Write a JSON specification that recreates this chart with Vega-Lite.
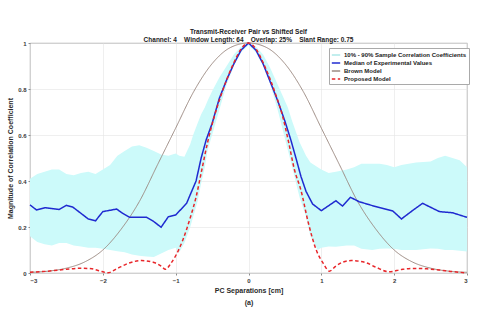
{
  "$schema": "https://vega.github.io/schema/vega-lite/v6.json",
  "autosize": "none",
  "width": 437,
  "height": 230,
  "padding": {"left": 30, "top": 43, "right": 13, "bottom": 47},
  "background": "white",
  "config": {
    "font": "Liberation Sans",
    "view": {"stroke": "#8c8c8c", "strokeWidth": 0.8},
    "axis": {"labelFontSize": 6, "labelFontWeight": "bold", "labelColor": "#3a3a3a", "titleFontSize": 7, "titleFontWeight": "bold", "titleColor": "#2a2a2a", "gridColor": "#e4e4e4", "gridWidth": 0.6, "domain": false, "tickColor": "#8c8c8c", "tickSize": 2}
  },
  "title": {
    "text": ["Transmit-Receiver Pair vs Shifted Self", "Channel: 4\u00a0\u00a0\u00a0\u00a0Window Length: 64\u00a0\u00a0\u00a0\u00a0Overlap: 25%\u00a0\u00a0\u00a0\u00a0Slant Range: 0.75"],
    "fontSize": 6.5, "fontWeight": "bold", "color": "#222", "lineHeight": 7.5, "offset": -3, "anchor": "middle"
  },
  "datasets": {
    "band": [
      {"x": -3.0, "lo": 0.16, "hi": 0.41}, {"x": -2.9, "lo": 0.135, "hi": 0.43}, {"x": -2.8, "lo": 0.125, "hi": 0.44},
      {"x": -2.7, "lo": 0.12, "hi": 0.45}, {"x": -2.6, "lo": 0.13, "hi": 0.45}, {"x": -2.5, "lo": 0.13, "hi": 0.43},
      {"x": -2.4, "lo": 0.12, "hi": 0.425}, {"x": -2.3, "lo": 0.115, "hi": 0.435}, {"x": -2.2, "lo": 0.11, "hi": 0.44},
      {"x": -2.1, "lo": 0.11, "hi": 0.43}, {"x": -2.0, "lo": 0.105, "hi": 0.45}, {"x": -1.9, "lo": 0.1, "hi": 0.47},
      {"x": -1.8, "lo": 0.095, "hi": 0.51}, {"x": -1.7, "lo": 0.09, "hi": 0.53}, {"x": -1.6, "lo": 0.08, "hi": 0.55},
      {"x": -1.5, "lo": 0.075, "hi": 0.555}, {"x": -1.4, "lo": 0.072, "hi": 0.545}, {"x": -1.3, "lo": 0.07, "hi": 0.53},
      {"x": -1.2, "lo": 0.085, "hi": 0.515}, {"x": -1.1, "lo": 0.1, "hi": 0.51}, {"x": -1.0, "lo": 0.11, "hi": 0.52},
      {"x": -0.95, "lo": 0.09, "hi": 0.51}, {"x": -0.88, "lo": 0.13, "hi": 0.505}, {"x": -0.8, "lo": 0.2, "hi": 0.56},
      {"x": -0.76, "lo": 0.245, "hi": 0.6}, {"x": -0.7, "lo": 0.31, "hi": 0.65}, {"x": -0.65, "lo": 0.39, "hi": 0.69},
      {"x": -0.6, "lo": 0.46, "hi": 0.72}, {"x": -0.56, "lo": 0.535, "hi": 0.75}, {"x": -0.5, "lo": 0.6, "hi": 0.79},
      {"x": -0.4, "lo": 0.71, "hi": 0.85}, {"x": -0.3, "lo": 0.82, "hi": 0.9}, {"x": -0.2, "lo": 0.9, "hi": 0.95},
      {"x": -0.1, "lo": 0.96, "hi": 0.985}, {"x": 0.0, "lo": 0.99, "hi": 1.0}, {"x": 0.1, "lo": 0.96, "hi": 0.985},
      {"x": 0.2, "lo": 0.9, "hi": 0.95}, {"x": 0.3, "lo": 0.82, "hi": 0.89}, {"x": 0.4, "lo": 0.71, "hi": 0.82},
      {"x": 0.54, "lo": 0.535, "hi": 0.72}, {"x": 0.6, "lo": 0.46, "hi": 0.66}, {"x": 0.7, "lo": 0.33, "hi": 0.57},
      {"x": 0.79, "lo": 0.245, "hi": 0.51}, {"x": 0.85, "lo": 0.16, "hi": 0.48}, {"x": 0.95, "lo": 0.1, "hi": 0.46},
      {"x": 1.0, "lo": 0.11, "hi": 0.45}, {"x": 1.1, "lo": 0.115, "hi": 0.435}, {"x": 1.2, "lo": 0.114, "hi": 0.44},
      {"x": 1.35, "lo": 0.12, "hi": 0.45}, {"x": 1.45, "lo": 0.12, "hi": 0.46}, {"x": 1.55, "lo": 0.105, "hi": 0.475},
      {"x": 1.7, "lo": 0.1, "hi": 0.475}, {"x": 1.8, "lo": 0.105, "hi": 0.475}, {"x": 1.9, "lo": 0.107, "hi": 0.47},
      {"x": 2.0, "lo": 0.105, "hi": 0.46}, {"x": 2.1, "lo": 0.1, "hi": 0.47}, {"x": 2.2, "lo": 0.1, "hi": 0.475},
      {"x": 2.3, "lo": 0.1, "hi": 0.48}, {"x": 2.5, "lo": 0.107, "hi": 0.485}, {"x": 2.6, "lo": 0.105, "hi": 0.5},
      {"x": 2.7, "lo": 0.1, "hi": 0.51}, {"x": 2.8, "lo": 0.1, "hi": 0.5}, {"x": 2.9, "lo": 0.097, "hi": 0.49},
      {"x": 3.0, "lo": 0.093, "hi": 0.46}
    ],
    "median": [
      {"x": -3.0, "y": 0.296}, {"x": -2.91, "y": 0.274}, {"x": -2.79, "y": 0.284}, {"x": -2.6, "y": 0.276},
      {"x": -2.5, "y": 0.294}, {"x": -2.41, "y": 0.286}, {"x": -2.2, "y": 0.235}, {"x": -2.1, "y": 0.227},
      {"x": -2.0, "y": 0.267}, {"x": -1.81, "y": 0.278}, {"x": -1.74, "y": 0.262}, {"x": -1.63, "y": 0.242},
      {"x": -1.4, "y": 0.242}, {"x": -1.31, "y": 0.226}, {"x": -1.2, "y": 0.199}, {"x": -1.1, "y": 0.245},
      {"x": -1.0, "y": 0.252}, {"x": -0.85, "y": 0.303}, {"x": -0.72, "y": 0.4}, {"x": -0.65, "y": 0.5},
      {"x": -0.58, "y": 0.58}, {"x": -0.5, "y": 0.65}, {"x": -0.4, "y": 0.76}, {"x": -0.3, "y": 0.84},
      {"x": -0.2, "y": 0.91}, {"x": -0.1, "y": 0.97}, {"x": 0.0, "y": 1.0}, {"x": 0.1, "y": 0.97},
      {"x": 0.2, "y": 0.91}, {"x": 0.3, "y": 0.83}, {"x": 0.4, "y": 0.75}, {"x": 0.5, "y": 0.66},
      {"x": 0.58, "y": 0.58}, {"x": 0.66, "y": 0.49}, {"x": 0.72, "y": 0.42}, {"x": 0.79, "y": 0.355},
      {"x": 0.88, "y": 0.3}, {"x": 1.0, "y": 0.271}, {"x": 1.2, "y": 0.314}, {"x": 1.29, "y": 0.291},
      {"x": 1.4, "y": 0.329}, {"x": 1.52, "y": 0.31}, {"x": 1.7, "y": 0.293}, {"x": 1.98, "y": 0.27},
      {"x": 2.1, "y": 0.235}, {"x": 2.25, "y": 0.271}, {"x": 2.39, "y": 0.303}, {"x": 2.62, "y": 0.267},
      {"x": 2.8, "y": 0.262}, {"x": 3.0, "y": 0.242}
    ],
    "brown": [
      {"x": -3.0, "y": 0.003}, {"x": -2.75, "y": 0.008}, {"x": -2.5, "y": 0.021}, {"x": -2.25, "y": 0.048},
      {"x": -2.0, "y": 0.1}, {"x": -1.75, "y": 0.19}, {"x": -1.5, "y": 0.31}, {"x": -1.25, "y": 0.47},
      {"x": -1.0, "y": 0.63}, {"x": -0.75, "y": 0.79}, {"x": -0.5, "y": 0.91}, {"x": -0.25, "y": 0.98},
      {"x": 0.0, "y": 1.0}, {"x": 0.25, "y": 0.98}, {"x": 0.5, "y": 0.91}, {"x": 0.75, "y": 0.79},
      {"x": 1.0, "y": 0.63}, {"x": 1.25, "y": 0.47}, {"x": 1.5, "y": 0.31}, {"x": 1.75, "y": 0.19},
      {"x": 2.0, "y": 0.1}, {"x": 2.25, "y": 0.048}, {"x": 2.5, "y": 0.021}, {"x": 2.75, "y": 0.008},
      {"x": 3.0, "y": 0.003}
    ],
    "proposed": [
      {"x": -3.0, "y": 0.003}, {"x": -2.75, "y": 0.008}, {"x": -2.5, "y": 0.016}, {"x": -2.3, "y": 0.021},
      {"x": -2.15, "y": 0.018}, {"x": -2.05, "y": 0.01}, {"x": -1.93, "y": 0.001}, {"x": -1.8, "y": 0.02},
      {"x": -1.65, "y": 0.042}, {"x": -1.47, "y": 0.054}, {"x": -1.3, "y": 0.046}, {"x": -1.2, "y": 0.03},
      {"x": -1.14, "y": 0.016}, {"x": -1.07, "y": 0.04}, {"x": -1.0, "y": 0.075}, {"x": -0.9, "y": 0.145},
      {"x": -0.8, "y": 0.24}, {"x": -0.72, "y": 0.33}, {"x": -0.64, "y": 0.45}, {"x": -0.56, "y": 0.57},
      {"x": -0.47, "y": 0.68}, {"x": -0.38, "y": 0.77}, {"x": -0.3, "y": 0.84}, {"x": -0.2, "y": 0.915},
      {"x": -0.1, "y": 0.975}, {"x": 0.0, "y": 1.0}, {"x": 0.1, "y": 0.975}, {"x": 0.2, "y": 0.915},
      {"x": 0.3, "y": 0.84}, {"x": 0.38, "y": 0.77}, {"x": 0.47, "y": 0.68}, {"x": 0.55, "y": 0.57},
      {"x": 0.63, "y": 0.45}, {"x": 0.72, "y": 0.36}, {"x": 0.82, "y": 0.22}, {"x": 0.93, "y": 0.1},
      {"x": 1.03, "y": 0.04}, {"x": 1.11, "y": 0.008}, {"x": 1.2, "y": 0.03}, {"x": 1.3, "y": 0.048},
      {"x": 1.41, "y": 0.054}, {"x": 1.61, "y": 0.045}, {"x": 1.75, "y": 0.025}, {"x": 1.93, "y": 0.005},
      {"x": 2.1, "y": 0.015}, {"x": 2.25, "y": 0.02}, {"x": 2.45, "y": 0.018}, {"x": 2.62, "y": 0.013},
      {"x": 2.8, "y": 0.006}, {"x": 2.98, "y": 0.001}
    ]
  },
  "layer": [
    {
      "data": {"name": "band"},
      "mark": {"type": "area", "interpolate": "linear", "color": "#ccfafa"},
      "encoding": {
        "x": {"field": "x", "type": "quantitative", "scale": {"domain": [-3, 3], "nice": false, "zero": false},
              "axis": {"values": [-3, -2, -1, 0, 1, 2, 3], "format": "d", "title": ["PC Separations [cm]", "(a)"], "titleLineHeight": 12, "titlePadding": 3, "labelPadding": 2}},
        "y": {"field": "lo", "type": "quantitative", "scale": {"domain": [0, 1], "nice": false},
              "axis": {"values": [0, 0.1, 0.2, 0.3, 0.4, 0.5, 0.6, 0.7, 0.8, 0.9, 1], "format": ".1~f", "title": "Magnitude of Correlation Coefficient", "titlePadding": 4, "labelPadding": 2}},
        "y2": {"field": "hi"}
      }
    },
    {
      "data": {"name": "brown"},
      "mark": {"type": "line", "interpolate": "monotone", "strokeWidth": 1},
      "encoding": {
        "x": {"field": "x", "type": "quantitative"},
        "y": {"field": "y", "type": "quantitative"},
        "stroke": {"datum": "Brown Model", "type": "nominal",
          "scale": {"domain": ["10% - 90% Sample Correlation Coefficients", "Median of Experimental Values", "Brown Model", "Proposed Model"], "range": ["#aee8e8", "#1f2ad0", "#9c8a82", "#e8262a"]},
          "legend": {
            "title": null, "orient": "none", "legendX": 299, "legendY": 5,
            "labelFontSize": 6, "labelFontWeight": "bold", "labelColor": "#222", "labelLimit": 300, "labelOffset": 3,
            "rowPadding": 0, "symbolSize": 70, "symbolStrokeWidth": 1.5, "padding": 2,
            "fillColor": "white", "strokeColor": "#aaaaaa"
          }
        },
        "strokeDash": {"datum": "Brown Model", "type": "nominal",
          "scale": {"domain": ["10% - 90% Sample Correlation Coefficients", "Median of Experimental Values", "Brown Model", "Proposed Model"], "range": [[1, 0], [1, 0], [1, 0], [3.5, 2.5]]}}
      }
    },
    {
      "data": {"name": "median"},
      "mark": {"type": "line", "interpolate": "linear", "strokeWidth": 1.5},
      "encoding": {
        "x": {"field": "x", "type": "quantitative"},
        "y": {"field": "y", "type": "quantitative"},
        "stroke": {"datum": "Median of Experimental Values", "type": "nominal"},
        "strokeDash": {"datum": "Median of Experimental Values", "type": "nominal"}
      }
    },
    {
      "data": {"name": "proposed"},
      "mark": {"type": "line", "interpolate": "monotone", "strokeWidth": 1.5},
      "encoding": {
        "x": {"field": "x", "type": "quantitative"},
        "y": {"field": "y", "type": "quantitative"},
        "stroke": {"datum": "Proposed Model", "type": "nominal"},
        "strokeDash": {"datum": "Proposed Model", "type": "nominal"}
      }
    }
  ]
}
